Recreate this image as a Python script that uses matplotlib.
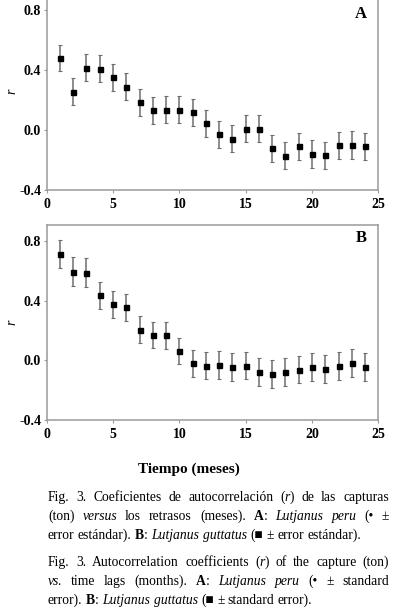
import matplotlib
matplotlib.use("Agg")
import matplotlib.pyplot as plt

# ---------------- data ----------------
lags = list(range(1, 25))
r_peru = [0.478, 0.256, 0.416, 0.409, 0.353, 0.289, 0.184, 0.131, 0.136, 0.136,
          0.118, 0.044, -0.029, -0.058, 0.009, 0.009, -0.122, -0.171, -0.109,
          -0.160, -0.169, -0.102, -0.098, -0.109]
se_peru = [0.087, 0.089, 0.09, 0.09, 0.09, 0.09, 0.09, 0.09, 0.09, 0.09,
           0.09, 0.09, 0.09, 0.09, 0.09, 0.09, 0.092, 0.092, 0.092,
           0.092, 0.092, 0.092, 0.092, 0.092]
r_gutt = [0.714, 0.597, 0.590, 0.439, 0.378, 0.356, 0.207, 0.171, 0.169, 0.063,
          -0.020, -0.034, -0.029, -0.045, -0.034, -0.079, -0.092, -0.079, -0.061,
          -0.043, -0.059, -0.038, -0.016, -0.043]
se_gutt = [0.093, 0.095, 0.095, 0.09, 0.09, 0.09, 0.09, 0.09, 0.09, 0.09,
           0.093, 0.093, 0.093, 0.093, 0.093, 0.093, 0.093, 0.093, 0.093,
           0.093, 0.093, 0.093, 0.093, 0.093]
yticks = [-0.4, 0.0, 0.4, 0.8]
ytick_labels = ["-0.4", "0.0", "0.4", "0.8"]
xticks = [0, 5, 10, 15, 20, 25]
panel_labels = ["A", "B"]
xlabel = "Tiempo (meses)"

W, H = 394, 614
fig = plt.figure(figsize=(W / 100, H / 100), dpi=100)
SERIF = ["Liberation Serif", "DejaVu Serif"]


def px_rect(left, top, right, bottom):
    return [left / W, 1 - bottom / H, (right - left) / W, (bottom - top) / H]


axA = fig.add_axes(px_rect(46.7, -6.5, 378.3, 190))
axB = fig.add_axes(px_rect(46.7, 225, 378.3, 420))

spine_col = "#9a9a9a"
for ax, r, se, lab in [(axA, r_peru, se_peru, panel_labels[0]),
                       (axB, r_gutt, se_gutt, panel_labels[1])]:
    ax.errorbar(lags, r, yerr=se, fmt="s", ms=3.6, mfc="black", mec="black",
                ecolor="#6e6e6e", elinewidth=1.1, capsize=1.6, capthick=0.8,
                zorder=3)
    ax.set_xlim(0, 25)
    ax.set_ylim(-0.4, 0.91)
    ax.set_xticks(xticks)
    ax.set_xticklabels([str(v) for v in xticks])
    ax.set_yticks(yticks)
    ax.set_yticklabels(ytick_labels)
    for s in ax.spines.values():
        s.set_color(spine_col)
        s.set_linewidth(1.1)
    ax.tick_params(axis="both", direction="out", length=2.5, width=0.8,
                   color=spine_col, labelsize=10)
    ax.tick_params(axis="x", pad=3)
    ax.tick_params(axis="y", pad=1.6)
    for t in ax.get_xticklabels() + ax.get_yticklabels():
        t.set_family(SERIF)
        t.set_fontweight("bold")
    ax.set_ylabel("r", fontstyle="italic", family=SERIF, fontsize=10,
                  rotation=90, va="center", ha="center")
    ax.yaxis.set_label_coords(-0.105, 0.5)
    ax.text(0.965, 0.975 if ax is axB else 0.935, lab, transform=ax.transAxes,
            ha="right", va="top", family=SERIF, fontweight="bold", fontsize=12)

fig.text(189 / W, 1 - 469 / H, xlabel, ha="center", va="center",
         family=SERIF, fontweight="bold", fontsize=11)

# ---------------- caption (justified) ----------------
N, I, B = "normal", "italic", "bold"
caption_lines = [
    ([("Fig. 3. Coeficientes de autocorrelación (", N), ("r", I),
      (") de las capturas", N)], True),
    ([("(ton) ", N), ("versus", I), (" los retrasos (meses). ", N), ("A", B),
      (": ", N), ("Lutjanus peru", I), (" (• ±", N)], True),
    ([("error estándar). ", N), ("B", B), (": ", N), ("Lutjanus guttatus", I),
      (" (■ ± error estándar).", N)], False),
    None,
    ([("Fig. 3. Autocorrelation coefficients (", N), ("r", I),
      (") of the capture (ton)", N)], True),
    ([("vs.", I), (" time lags (months). ", N), ("A", B), (": ", N),
      ("Lutjanus peru", I), (" (• ± standard", N)], True),
    ([("error). ", N), ("B", B), (": ", N), ("Lutjanus guttatus", I),
      (" (■ ± standard error).", N)], False),
]

cap_left, cap_right = 48, 389
cap_size = 9.8
line_y = [497, 516, 535, None, 562, 581, 600]

renderer = fig.canvas.get_renderer()


def split_words(segs):
    words = [[]]
    for text, style in segs:
        parts = text.split(" ")
        for k, p in enumerate(parts):
            if k > 0:
                words.append([])
            if p:
                words[-1].append((p, style))
    return [w for w in words if w]


def make_piece(x, y, text, style):
    kw = dict(family=SERIF, fontsize=cap_size, va="baseline", ha="left")
    if style == I:
        kw["fontstyle"] = "italic"
    elif style == B:
        kw["fontweight"] = "bold"
    return fig.text(x / W, 1 - y / H, text, **kw)


def piece_width(text, style):
    t = make_piece(0, 0, text, style)
    w = t.get_window_extent(renderer).width
    t.remove()
    return w


space_w = piece_width("a a", N) - piece_width("aa", N)

for entry, y in zip(caption_lines, line_y):
    if entry is None:
        continue
    segs, justify = entry
    words = split_words(segs)
    widths = [sum(piece_width(p, s) for p, s in w) for w in words]
    total = sum(widths)
    if justify and len(words) > 1:
        gap = (cap_right - cap_left - total) / (len(words) - 1)
    else:
        gap = space_w
    x = cap_left
    base = y + 4
    for w, ww in zip(words, widths):
        xx = x
        for p, s in w:
            make_piece(xx, base, p, s)
            xx += piece_width(p, s)
        x += ww + gap

fig.savefig("out.png", dpi=100)
